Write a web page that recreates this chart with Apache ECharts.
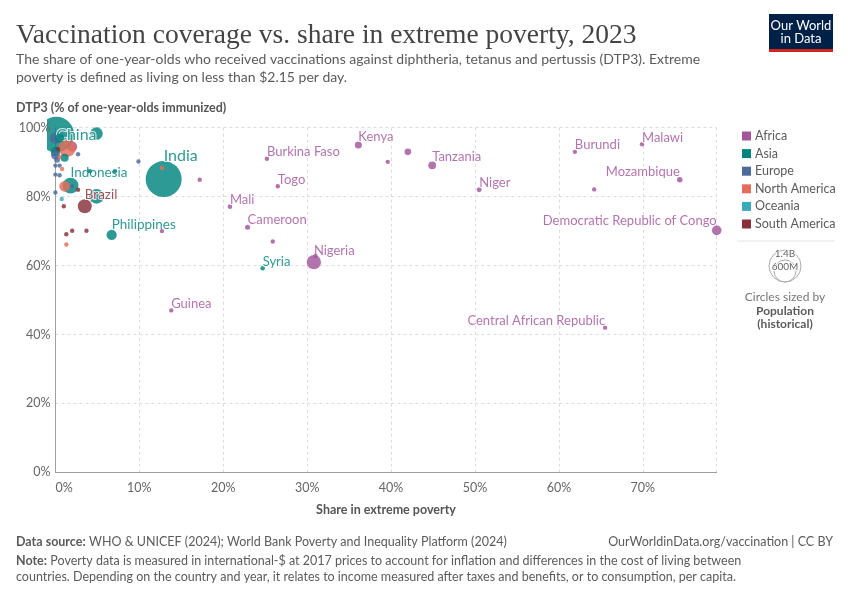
<!DOCTYPE html>
<html><head><meta charset="utf-8">
<script src="https://cdn.jsdelivr.net/npm/echarts@6.0.0/dist/echarts.min.js"></script>
<style>html,body{margin:0;padding:0;background:#fff}#c{width:850px;height:600px}</style>
</head><body><div id="c"></div>
<script>
// ---- data: [name, share in extreme poverty %, DTP3 %, population (millions)] ----
const continents = ["Africa", "Asia", "Europe", "North America", "Oceania", "South America"];
const africa = [
  ["Kenya", 36.1, 95.0, 55], ["", 42.0, 93.0, 49], ["", 39.6, 90.1, 14],
  ["Tanzania", 44.9, 89.1, 67], ["Burkina Faso", 25.2, 91.0, 23], ["Togo", 26.5, 83.0, 9],
  ["", 17.2, 84.9, 13], ["Mali", 20.8, 77.1, 23], ["Cameroon", 22.9, 71.1, 28],
  ["", 25.9, 67.0, 8], ["Nigeria", 30.8, 61.0, 224], ["", 31.0, 62.8, 2],
  ["Guinea", 13.8, 47.0, 14], ["", 12.7, 70.0, 3], ["Burundi", 61.9, 93.0, 13],
  ["Malawi", 69.9, 95.2, 21], ["Niger", 50.5, 82.0, 27], ["", 64.2, 82.1, 20],
  ["Mozambique", 74.4, 84.9, 34], ["Democratic Republic of Congo", 78.8, 70.2, 102],
  ["Central African Republic", 65.5, 42.0, 5.7], ["", 2.0, 94.5, 113]
];
const asia = [
  ["China", 0.1, 98.0, 1410], ["India", 12.9, 85.1, 1430], ["", 4.9, 98.3, 173],
  ["Indonesia", 1.8, 83.2, 278], ["", 4.9, 80.1, 240], ["Philippines", 6.7, 68.9, 117],
  ["Syria", 24.7, 59.2, 23], ["", 0.0, 93.0, 99], ["", 1.1, 91.3, 72], ["", 0.5, 97.0, 89],
  ["", 4.1, 87.4, 8], ["", 7.1, 87.4, 6]
];
const europe = [
  ["", 0.0, 97.0, 144], ["", 0.0, 92.0, 84], ["", 0.2, 90.7, 38], ["", 0.0, 89.0, 10],
  ["", 0.5, 89.0, 10], ["", 0.0, 86.4, 10], ["", 0.5, 86.2, 10], ["", 0.0, 81.2, 10],
  ["", 2.7, 92.3, 5], ["", 9.9, 90.2, 3], ["", 2.0, 83.0, 3]
];
const northAmerica = [
  ["", 1.4, 94.1, 335], ["", 1.1, 83.0, 128], ["", 12.7, 88.3, 10], ["", 1.3, 66.1, 3],
  ["", 0.8, 88.0, 5], ["", 0.5, 91.5, 17]
];
const oceania = [["", 0.75, 79.3, 10]];
const southAmerica = [
  ["Brazil", 3.5, 77.2, 216], ["", 2.7, 82.0, 12], ["", 0.3, 93.8, 20], ["", 1.0, 77.2, 7],
  ["", 1.3, 69.1, 8], ["", 2.0, 70.1, 10], ["", 3.7, 70.1, 12]
];
const xTicks = [0, 10, 20, 30, 40, 50, 60, 70];
const yTicks = [0, 20, 40, 60, 80, 100];

// ---- styles ----
const colors = {"Africa":"#a2559c","Asia":"#00847e","Europe":"#4c6a9c","North America":"#e56e5a","Oceania":"#38aaba","South America":"#883039"};
const sets = {"Africa":africa,"Asia":asia,"Europe":europe,"North America":northAmerica,"Oceania":oceania,"South America":southAmerica};
const labelStyle = {
  "China": {position:"inside", align:"left", offset:[1,4], fontSize:16},
  "India": {position:"top", align:"left", fontSize:16, distance:-3},
  "Indonesia": {position:"top", align:"left", fontSize:13.5, distance:-2},
  "Brazil": {position:"top", align:"left", fontSize:13.5, distance:-2},
  "Philippines": {position:"top", align:"left", fontSize:13.5, distance:-2},
  "Mozambique": {position:"top", align:"right", offset:[1,0], fontSize:13, distance:-1},
  "Democratic Republic of Congo": {position:"top", align:"right", offset:[-4,0], fontSize:13, distance:-2},
  "Central African Republic": {position:"top", align:"right", offset:[-3,3], fontSize:13, distance:-2}
};
const defaultLabel = {position:"top", align:"left", fontSize:13, distance:-2};
const rMax = 18, popMax = 1430, rMin = 2.2;
function radius(p){ return Math.max(rMin, rMax*Math.sqrt(p/popMax)); }

function item(row, cont){
  const d = {name: row[0], value: [row[1], row[2], row[3]]};
  if (row[0]) {
    const ls = Object.assign({}, defaultLabel, labelStyle[row[0]] || {});
    d.label = Object.assign({show:true, formatter: row[0], color: colors[cont],
      fontFamily:"Lato", textBorderColor:"#fff", textBorderWidth:2}, ls);
  }
  return d;
}
const series = [];
[true,false].forEach(big => {
  continents.forEach(c => {
    const rows = sets[c].filter(r => big ? r[3] >= 100 : r[3] < 100)
      .sort((a,b)=>b[3]-a[3]);
    series.push({
      type:"scatter", name:c, z: big?2:3, clip:false,
      data: rows.map(r => item(r, c)),
      symbolSize: v => 2*radius(v[2]),
      itemStyle:{color:colors[c], opacity:0.82},
      emphasis:{disabled:true}, labelLayout:{hideOverlap:false}
    });
  });
});

const chart = echarts.init(document.getElementById("c"), null, {renderer:"canvas"});
const gray = "#5b5b5b";
const pct = v => v + "%";
chart.setOption({
  animation:false,
  textStyle:{fontFamily:"Lato"},
  grid:{left:55.4, right:133.3, top:127.7, bottom:127.6, containLabel:false},
  xAxis:{type:"value", min:0, max:78.8, interval:10,
    axisLine:{show:true, lineStyle:{color:"#a0a0a0"}}, axisTick:{show:false},
    splitLine:{show:true, lineStyle:{color:"#dcdcdc", type:[3,3]}},
    axisLabel:{color:"#666", fontSize:12.5, margin:9, alignMinLabel:"left",
      customValues: xTicks, formatter: pct}},
  yAxis:[
    {type:"value", min:0, max:100, interval:20, position:"left",
      axisLine:{show:true, lineStyle:{color:"#a0a0a0"}}, axisTick:{show:false},
      splitLine:{show:true, lineStyle:{color:"#dcdcdc", type:[3,3]}},
      axisLabel:{show:false}},
    {type:"value", min:0, max:100, interval:20, position:"left", offset:0, z:10,
      axisLine:{show:false}, axisTick:{show:false}, splitLine:{show:false},
      axisLabel:{color:"#666", fontSize:12.5, margin:5, customValues: yTicks, formatter: pct}}
  ],
  legend:{orient:"vertical", left:737, top:124, icon:"rect", itemWidth:9, itemHeight:9,
    itemGap:3.6, itemStyle:{opacity:1},
    textStyle:{color:gray, fontSize:12.5, lineHeight:14, padding:[0,0,0,-1]},
    data: continents, selectedMode:false},
  series: series,
  graphic:[
    {type:"rect", z:6, shape:{x:0, y:112, width:47, height:60}, style:{fill:"#fff"}},
    {type:"text", left:16, top:22, style:{text:"Vaccination coverage vs. share in extreme poverty, 2023",
      font:"27.5px 'Liberation Serif', serif", fill:"#444"}},
    {type:"text", left:16, top:50, style:{text:"The share of one-year-olds who received vaccinations against diphtheria, tetanus and pertussis (DTP3). Extreme\npoverty is defined as living on less than $2.15 per day.",
      font:"14px Lato", fill:gray, lineHeight:18}},
    {type:"text", left:16, top:101, style:{text:"DTP3 (% of one-year-olds immunized)", font:"bold 12.5px Lato", fill:"#555"}},
    {type:"text", x:386, y:503, style:{text:"Share in extreme poverty", font:"bold 12.5px Lato", fill:"#555", align:"center"}},
    {type:"rect", shape:{x:769, y:14, width:64, height:38}, style:{fill:"#002147"}},
    {type:"rect", shape:{x:769, y:49, width:64, height:3}, style:{fill:"#ce261e"}},
    {type:"text", x:801, y:19, style:{text:"Our World\nin Data", font:"13px Lato", fill:"#fff", align:"center", lineHeight:13.5}},
    {type:"line", shape:{x1:737, y1:241, x2:835, y2:241}, style:{stroke:"#e6e6e6", lineWidth:1}},
    {type:"circle", shape:{cx:785, cy:266, r:16}, style:{fill:"none", stroke:"#aaa", lineWidth:1}},
    {type:"circle", shape:{cx:785, cy:271, r:11}, style:{fill:"none", stroke:"#aaa", lineWidth:1}},
    {type:"text", x:785, y:249, style:{text:"1.4B", font:"10px Lato", fill:"#666", align:"center", stroke:"#fff", lineWidth:2}},
    {type:"text", x:785, y:262, style:{text:"600M", font:"10px Lato", fill:"#666", align:"center", stroke:"#fff", lineWidth:2}},
    {type:"text", x:785, y:291, style:{text:"Circles sized by", font:"12px Lato", fill:"#777", align:"center"}},
    {type:"text", x:785, y:304, style:{text:"Population\n(historical)", font:"bold 12px Lato", fill:gray, align:"center", lineHeight:13.5}},
    {type:"text", left:16, top:535, style:{rich:{b:{font:"bold 12.5px Lato", fill:gray}, n:{font:"12.5px Lato", fill:gray}},
      text:"{b|Data source:} {n|WHO & UNICEF (2024); World Bank Poverty and Inequality Platform (2024)}"}},
    {type:"text", right:17, top:535, style:{text:"OurWorldinData.org/vaccination | CC BY", font:"12.5px Lato", fill:gray}},
    {type:"text", left:16, top:554, style:{rich:{b:{font:"bold 12.5px Lato", fill:gray}, n:{font:"12.5px Lato", fill:gray, lineHeight:16.5}},
      text:"{b|Note:} {n|Poverty data is measured in international-$ at 2017 prices to account for inflation and differences in the cost of living between}\n{n|countries. Depending on the country and year, it relates to income measured after taxes and benefits, or to consumption, per capita.}"}}
  ]
});
</script></body></html>
